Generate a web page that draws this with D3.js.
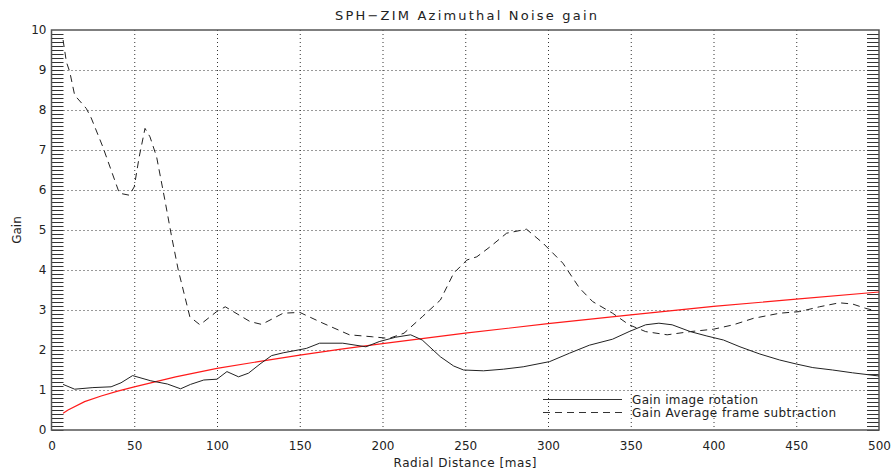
<!DOCTYPE html>
<html><head><meta charset="utf-8">
<script src="https://cdn.jsdelivr.net/npm/d3@7"></script>
<style>body{margin:0;background:#fff}svg{display:block}text{font-family:"DejaVu Sans",sans-serif;fill:#222}</style>
</head><body><svg id="c" width="892" height="472"></svg>
<script>
const xTicks = [0,50,100,150,200,250,300,350,400,450,500];
const yTicks = [0,1,2,3,4,5,6,7,8,9,10];
const rotX = [7,14,25,36,42,49,60,70,78,84,92,100,106,113,119,126,133,140,149,154,162,176,190,198,208,217,224,235,243,249,261,273,285,301,313,325,339,349,359,367,375,386,396,406,416,428,440,450,460,472,484,494,500];
const rotY = [1.14,1.02,1.06,1.08,1.18,1.36,1.23,1.15,1.03,1.14,1.25,1.27,1.46,1.33,1.42,1.65,1.86,1.93,2.0,2.04,2.17,2.17,2.08,2.21,2.32,2.38,2.25,1.83,1.6,1.5,1.48,1.52,1.58,1.71,1.92,2.12,2.27,2.46,2.63,2.67,2.63,2.46,2.35,2.25,2.08,1.9,1.75,1.65,1.56,1.5,1.43,1.38,1.35];
const avgX = [7,9,11,14,21,24,31,36,41,47,50,53,56.5,59.5,63.5,68.5,72.6,76.6,80.6,83.6,89.7,99.8,105,120,127,140,150,164,180,194,204,213,224,235,243,251,257,265,275,287,297,309,319,327,339,349,359,372,386,400,412,424,440,452,464,476,484,492,498];
const avgY = [9.75,9.2,8.96,8.37,8.04,7.8,7.08,6.5,5.92,5.87,6.08,6.83,7.54,7.33,6.83,5.75,4.83,4.0,3.33,2.83,2.63,2.96,3.08,2.71,2.64,2.92,2.94,2.67,2.38,2.33,2.29,2.42,2.83,3.25,3.92,4.25,4.33,4.58,4.92,5.02,4.67,4.17,3.55,3.21,2.92,2.63,2.46,2.38,2.46,2.52,2.63,2.79,2.92,2.96,3.08,3.18,3.15,3.04,2.98];
const refX = [7,10,20,30,40,50,75,100,125,150,175,200,250,300,350,400,450,500];
const refY = [0.42,0.5,0.71,0.85,0.97,1.08,1.33,1.54,1.71,1.87,2.02,2.16,2.42,2.66,2.88,3.09,3.27,3.45];
const legendLabels = ["Gain image rotation","Gain Average frame subtraction"];

const svg = d3.select("#c");
const L=51.5, R=879, T=30, B=430;
const x = d3.scaleLinear().domain([0,500]).range([L,R]);
const y = d3.scaleLinear().domain([0,10]).range([B,T]);

// grid
const g = svg.append("g");
g.selectAll(".vg").data(xTicks.slice(1,-1)).enter().append("line")
 .attr("x1",d=>x(d)+0.5).attr("x2",d=>x(d)+0.5).attr("y1",T).attr("y2",B)
 .attr("stroke","#333").attr("stroke-width",1).attr("stroke-dasharray","1,3");
g.selectAll(".hg").data(yTicks.slice(1,-1)).enter().append("line")
 .attr("x1",L).attr("x2",R).attr("y1",d=>Math.round(y(d))+0.5).attr("y2",d=>Math.round(y(d))+0.5)
 .attr("stroke","#333").attr("stroke-width",1).attr("stroke-dasharray","1,3");

// minor ticks both sides
const minor = d3.range(0,100).map(i=>i/10);
svg.append("g").selectAll("line").data(minor).enter().append("line")
 .attr("x1",L).attr("x2",L+12).attr("y1",d=>Math.round(y(d))+0.5).attr("y2",d=>Math.round(y(d))+0.5)
 .attr("stroke","#333").attr("stroke-width",1);
svg.append("g").selectAll("line").data(minor).enter().append("line")
 .attr("x1",R-12).attr("x2",R).attr("y1",d=>Math.round(y(d))+0.5).attr("y2",d=>Math.round(y(d))+0.5)
 .attr("stroke","#333").attr("stroke-width",1);

// axes labels via d3 axes
const xa = svg.append("g").attr("transform",`translate(0,${B})`)
 .call(d3.axisBottom(x).tickValues(xTicks).tickSize(0).tickPadding(11).tickFormat(d3.format("d")));
xa.select(".domain").remove();
xa.selectAll("text").attr("font-size",12).attr("font-family","DejaVu Sans").attr("fill","#222");
const ya = svg.append("g").attr("transform",`translate(${L},0)`)
 .call(d3.axisLeft(y).tickValues(yTicks).tickSize(0).tickPadding(5).tickFormat(d3.format("d")));
ya.select(".domain").remove();
ya.selectAll("text").attr("font-size",12).attr("font-family","DejaVu Sans").attr("fill","#222");

// frame
svg.append("rect").attr("x",L).attr("y",T).attr("width",R-L).attr("height",B-T)
 .attr("fill","none").attr("stroke","#555").attr("stroke-width",1.5);

// lines
const line = (xs,ys)=>d3.line().x((d,i)=>x(xs[i])).y(d=>y(d))(ys);
svg.append("path").attr("d",line(refX,refY)).attr("fill","none").attr("stroke","#ff1a1a").attr("stroke-width",1.2);
svg.append("path").attr("d",line(rotX,rotY)).attr("fill","none").attr("stroke","#222").attr("stroke-width",1);
svg.append("path").attr("d",line(avgX,avgY)).attr("fill","none").attr("stroke","#222").attr("stroke-width",1).attr("stroke-dasharray","7,5");

// legend
svg.append("line").attr("x1",543).attr("x2",622).attr("y1",399.5).attr("y2",399.5).attr("stroke","#333");
svg.append("line").attr("x1",543).attr("x2",622).attr("y1",412.5).attr("y2",412.5).attr("stroke","#333").attr("stroke-dasharray","7,5");
svg.append("text").attr("x",632).attr("y",404).attr("font-size",12).attr("textLength",126).attr("lengthAdjust","spacing").text(legendLabels[0]);
svg.append("text").attr("x",632).attr("y",417).attr("font-size",12).attr("textLength",204).attr("lengthAdjust","spacing").text(legendLabels[1]);

// titles
svg.append("text").attr("x",466).attr("y",20).attr("text-anchor","middle").attr("font-size",13)
 .attr("textLength",262).attr("lengthAdjust","spacing").text("SPH\u2212ZIM Azimuthal Noise gain");
svg.append("text").attr("x",465).attr("y",467).attr("text-anchor","middle").attr("font-size",12)
 .attr("textLength",143).attr("lengthAdjust","spacing").text("Radial Distance [mas]");
svg.append("text").attr("transform","translate(21,230) rotate(-90)").attr("text-anchor","middle").attr("font-size",12)
 .text("Gain");
</script></body></html>
